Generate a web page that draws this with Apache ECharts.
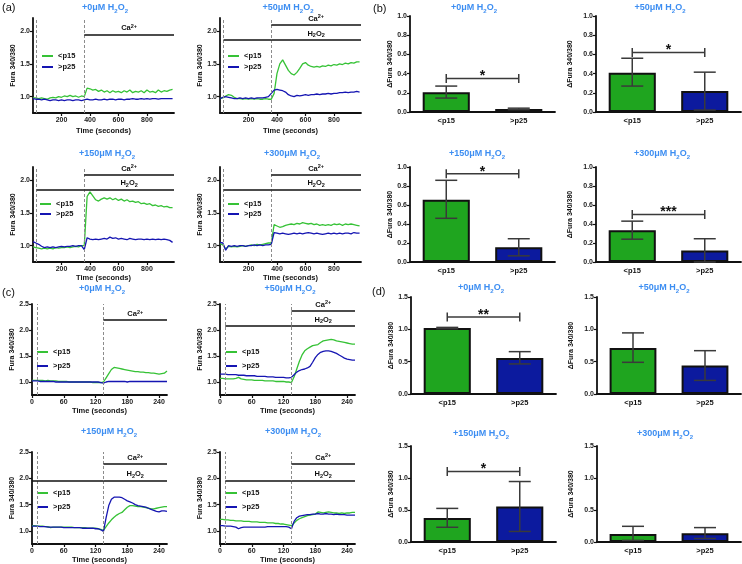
<!DOCTYPE html>
<html><head><meta charset="utf-8">
<script src="https://cdn.jsdelivr.net/npm/echarts@6/dist/echarts.min.js"></script>
<style>html,body{margin:0;padding:0;background:#fff}#c{width:742px;height:564px}</style>
</head><body><div id="c"></div><script>
// ---------- DATA ----------
const aTime = [0,20,40,60,80,100,120,140,160,180,200,220,240,260,280,300,320,340,360,380,400,420,440,460,480,500,520,540,560,580,600,620,640,660,680,700,720,740,760,780,800,820,840,860,880,900,920,940,960,980];
const cTime = [0,5,10,15,20,25,30,35,40,45,50,55,60,65,70,75,80,85,90,95,100,105,110,115,120,125,130,135,140,145,150,155,160,165,170,175,180,185,190,195,200,205,210,215,220,225,230,235,240,245,250,255];
const aXTicks = [200,400,600,800];
const cXTicks = [0,60,120,180,240];
const aYTicks = [1.0,1.5,2.0];
const cYTicks = [1.0,1.5,2.0,2.5];

const a0Green = [0.98,0.98,0.97,0.98,0.97,0.96,0.98,0.99,0.98,1.00, 0.99,1.01,1.00,1.02,1.00,1.01,0.99,1.01,1.00,1.13, 1.12,1.10,1.11,1.08,1.10,1.07,1.09,1.06,1.09,1.07, 1.08,1.06,1.09,1.07,1.10,1.06,1.08,1.07,1.09,1.06, 1.10,1.07,1.08,1.06,1.10,1.07,1.09,1.08,1.10,1.11];
const a0Blue = [0.97,0.96,0.96,0.95,0.96,0.95,0.94,0.95,0.95,0.94, 0.95,0.94,0.95,0.95,0.94,0.95,0.95,0.94,0.95,0.96, 0.95,0.95,0.96,0.95,0.95,0.96,0.95,0.96,0.96,0.95, 0.96,0.96,0.95,0.96,0.96,0.97,0.96,0.96,0.97,0.96, 0.97,0.96,0.97,0.97,0.96,0.97,0.97,0.97,0.97,0.97];
const a50Green = [0.97,0.98,1.01,1.03,1.02,0.99,0.97,0.97,0.96,0.97, 0.96,0.97,0.96,0.97,0.96,0.96,0.97,0.96,0.96,1.05, 1.35,1.50,1.56,1.48,1.40,1.35,1.33,1.37,1.43,1.50, 1.52,1.48,1.46,1.45,1.46,1.45,1.47,1.46,1.48,1.47, 1.49,1.48,1.50,1.49,1.51,1.50,1.52,1.51,1.53,1.53];
const a50Blue = [0.97,0.99,1.00,0.99,0.98,0.97,0.97,0.98,0.97,0.98, 0.97,0.98,0.97,0.98,0.98,0.98,0.99,1.00,1.05,1.10, 1.11,1.10,1.09,1.07,1.03,1.01,1.00,1.02,1.01,1.02, 1.03,1.02,1.03,1.03,1.04,1.03,1.04,1.04,1.05,1.04, 1.05,1.05,1.06,1.06,1.07,1.06,1.07,1.07,1.08,1.07];
const a150Green = [0.98,0.97,0.96,0.95,0.96,0.95,0.96,0.95,0.97,0.96, 0.97,0.97,0.98,0.97,0.98,0.99,0.98,1.00,1.00,1.75, 1.82,1.76,1.70,1.68,1.71,1.73,1.71,1.73,1.70,1.72, 1.69,1.71,1.68,1.70,1.67,1.68,1.66,1.67,1.64,1.65, 1.63,1.64,1.61,1.62,1.60,1.61,1.59,1.60,1.58,1.58];
const a150Blue = [1.06,1.04,1.02,0.99,0.97,0.98,0.97,0.98,0.97,0.98, 0.99,0.98,0.99,0.99,1.00,0.99,1.00,1.00,0.94,1.12, 1.10,1.09,1.10,1.09,1.10,1.11,1.10,1.13,1.11,1.12, 1.10,1.11,1.10,1.09,1.11,1.10,1.09,1.10,1.10,1.09, 1.10,1.09,1.10,1.09,1.10,1.09,1.10,1.09,1.08,1.05];
const a300Green = [1.03,1.01,0.95,0.99,0.98,0.99,0.98,0.99,1.00,0.99, 1.00,1.01,1.00,1.02,1.01,1.02,1.03,1.04,1.04,1.32, 1.30,1.28,1.29,1.31,1.32,1.33,1.32,1.34,1.33,1.35, 1.34,1.33,1.34,1.32,1.33,1.31,1.32,1.31,1.32,1.31, 1.33,1.32,1.33,1.31,1.33,1.32,1.33,1.32,1.31,1.30];
const a300Blue = [1.05,1.04,0.93,1.00,0.99,1.00,0.99,1.00,1.00,0.99, 1.00,1.00,1.01,1.00,1.01,1.00,1.01,1.01,1.02,1.20, 1.19,1.18,1.19,1.18,1.17,1.18,1.19,1.18,1.19,1.18, 1.19,1.20,1.19,1.18,1.19,1.18,1.17,1.18,1.19,1.18, 1.19,1.18,1.19,1.18,1.19,1.19,1.18,1.20,1.19,1.19];

const c0Green = [1.03,1.03,1.03,1.03,1.03,1.02,1.03,1.02,1.02,1.02, 1.01,1.01,1.01,1.01,1.00,1.00,1.00,1.00,1.00,1.00, 1.00,1.00,1.00,0.99,0.99,0.99,0.99,1.00,1.08,1.16, 1.24,1.28,1.27,1.26,1.25,1.24,1.23,1.22,1.21,1.20, 1.20,1.19,1.19,1.18,1.18,1.17,1.17,1.16,1.15,1.16, 1.17,1.21];
const c0Blue = [1.02,1.02,1.02,1.01,1.01,1.01,1.01,1.01,1.01,1.00, 1.00,1.00,1.00,1.00,1.00,1.00,1.00,1.00,1.00,1.00, 1.00,1.00,1.00,1.00,1.00,1.00,0.99,0.98,1.00,1.01, 1.01,1.01,1.01,1.01,1.01,1.01,1.00,1.01,1.01,1.01, 1.01,1.01,1.01,1.01,1.01,1.01,1.01,1.01,1.01,1.01, 1.01,1.01];
const c50Green = [1.07,1.07,1.06,1.06,1.06,1.06,1.07,1.09,1.06,1.05, 1.04,1.04,1.04,1.03,1.03,1.03,1.03,1.02,1.02,1.02, 1.02,1.01,1.01,1.01,1.01,1.00,1.00,0.99,1.10,1.25, 1.40,1.52,1.60,1.64,1.67,1.70,1.71,1.72,1.76,1.79, 1.80,1.81,1.82,1.81,1.79,1.78,1.77,1.76,1.75,1.74, 1.73,1.73];
const c50Blue = [1.15,1.15,1.15,1.14,1.14,1.14,1.14,1.13,1.13,1.13, 1.12,1.12,1.12,1.12,1.11,1.11,1.11,1.11,1.10,1.10, 1.10,1.09,1.09,1.09,1.09,1.08,1.08,1.09,1.14,1.19, 1.22,1.24,1.25,1.27,1.30,1.38,1.47,1.53,1.57,1.59, 1.60,1.60,1.59,1.57,1.55,1.52,1.49,1.46,1.44,1.43, 1.42,1.42];
const c150Green = [1.10,1.10,1.09,1.09,1.09,1.08,1.08,1.06,1.07,1.07, 1.07,1.07,1.07,1.07,1.07,1.07,1.06,1.06,1.06,1.06, 1.06,1.05,1.05,1.05,1.05,1.04,1.03,1.01,1.08,1.15, 1.21,1.26,1.30,1.33,1.35,1.40,1.45,1.48,1.48,1.47, 1.46,1.46,1.45,1.44,1.43,1.42,1.42,1.43,1.44,1.45, 1.46,1.46];
const c150Blue = [1.09,1.09,1.09,1.08,1.08,1.08,1.07,1.07,1.07,1.07, 1.07,1.07,1.06,1.06,1.06,1.06,1.06,1.06,1.06,1.05, 1.05,1.05,1.05,1.05,1.04,1.04,1.02,0.99,1.25,1.48, 1.60,1.64,1.64,1.64,1.63,1.60,1.57,1.55,1.53,1.50, 1.48,1.47,1.46,1.45,1.43,1.41,1.39,1.37,1.36,1.38, 1.38,1.37];
const c300Green = [1.22,1.22,1.21,1.21,1.20,1.20,1.19,1.19,1.19,1.18, 1.18,1.18,1.17,1.17,1.17,1.16,1.16,1.16,1.15,1.15, 1.15,1.14,1.14,1.13,1.13,1.12,1.11,1.10,1.15,1.20, 1.23,1.25,1.27,1.29,1.30,1.31,1.32,1.36,1.35,1.34, 1.35,1.36,1.35,1.34,1.34,1.33,1.34,1.33,1.34,1.34, 1.35,1.35];
const c300Blue = [1.10,1.10,1.09,1.09,1.09,1.08,1.07,1.04,1.06,1.07, 1.07,1.07,1.07,1.07,1.07,1.07,1.07,1.07,1.08,1.08, 1.08,1.08,1.08,1.08,1.08,1.08,1.07,1.04,1.18,1.25, 1.28,1.29,1.30,1.31,1.31,1.32,1.32,1.33,1.32,1.32, 1.33,1.32,1.32,1.31,1.32,1.31,1.31,1.31,1.30,1.30, 1.30,1.30];

const barCategories = ['<p15', '>p25'];
const b0Mean = [0.205, 0.03],  b0Low = [0.145, 0.025], b0High = [0.27, 0.04];
const b50Mean = [0.41, 0.22],  b50Low = [0.27, 0.02],  b50High = [0.56, 0.415];
const b150Mean = [0.655, 0.155], b150Low = [0.46, 0.065], b150High = [0.86, 0.245];
const b300Mean = [0.335, 0.12], b300Low = [0.24, 0.0], b300High = [0.43, 0.245];
const d0Mean = [1.02, 0.555],  d0Low = [1.01, 0.465],  d0High = [1.03, 0.655];
const d50Mean = [0.71, 0.44],  d50Low = [0.49, 0.21],  d50High = [0.945, 0.67];
const d150Mean = [0.375, 0.555], d150Low = [0.23, 0.165], d150High = [0.525, 0.945];
const d300Mean = [0.125, 0.135], d300Low = [0.025, 0.055], d300High = [0.245, 0.225];
const bSigY = [0.35, 0.62, 0.93, 0.50];
const bSigStar = ['*', '*', '*', '***'];
const dSigY = [1.19, null, 1.10, null];
const dSigStar = ['**', '', '*', ''];

const aXMax = 990, cXMax = 255;
const aDash1 = 25, aCa = 360, cDash1 = 10, cCa = 135;

// lengths check
[[aTime,a0Green,a0Blue,a50Green,a50Blue,a150Green,a150Blue,a300Green,a300Blue],[cTime,c0Green,c0Blue,c50Green,c50Blue,c150Green,c150Blue,c300Green,c300Blue]].forEach(g=>{g.forEach((arr,k)=>{if(arr.length!==g[0].length) throw new Error('length mismatch '+k+' '+arr.length);});});

// ---------- STYLE ----------
const FONT = 'Liberation Sans, Arial, sans-serif';
const GREEN_LINE = '#36c236', BLUE_LINE = '#1515b2';
const GREEN_BAR = '#1fa51f', BLUE_BAR = '#0c1a9e';
const TITLE_C = '#3d8ef2';
const INK = '#111';

const linePanels = [
  {conc:'0',   tx:105, ty:8,   g:[33,18,141,95],   t:'a', green:a0Green,   blue:a0Blue,   caY:1.95, h2Y:null, h2From:null, lg:[42,51,1],  xGap:14},
  {conc:'50',  tx:288, ty:8,   g:[220,18,141,95],  t:'a', green:a50Green,  blue:a50Blue,  caY:2.10, h2Y:1.87, h2From:aDash1, lg:[228,51,1], xGap:14},
  {conc:'150', tx:107, ty:154, g:[33,167,141,95],  t:'a', green:a150Green, blue:a150Blue, caY:2.08, h2Y:1.86, h2From:aDash1, lg:[40,199,0], xGap:10},
  {conc:'300', tx:292, ty:154, g:[220,167,141,95], t:'a', green:a300Green, blue:a300Blue, caY:2.08, h2Y:1.86, h2From:aDash1, lg:[228,199,0], xGap:10},
  {conc:'0',   tx:102, ty:289, g:[32,304,135,91],  t:'c', green:c0Green,   blue:c0Blue,   caY:2.19, h2Y:null, h2From:null, lg:[37,347,4], xGap:12},
  {conc:'50',  tx:290, ty:289, g:[220,304,135,91], t:'c', green:c50Green,  blue:c50Blue,  caY:2.37, h2Y:2.08, h2From:cDash1, lg:[226,347,4], xGap:12},
  {conc:'150', tx:109, ty:432, g:[32,452,135,92],  t:'c', green:c150Green, blue:c150Blue, caY:2.27, h2Y:1.96, h2From:0, lg:[37,488,4], xGap:10},
  {conc:'300', tx:293, ty:432, g:[220,452,135,92], t:'c', green:c300Green, blue:c300Blue, caY:2.28, h2Y:1.96, h2From:cDash1, lg:[226,488,4], xGap:10}
];
const barPanels = [
  {conc:'0',   tx:474, ty:8,   g:[410,16,145,96],  max:1.0, step:0.2, mean:b0Mean,   low:b0Low,   high:b0High,   sig:bSigY[0], star:bSigStar[0], yGap:16},
  {conc:'50',  tx:660, ty:8,   g:[596,16,145,96],  max:1.0, step:0.2, mean:b50Mean,  low:b50Low,  high:b50High,  sig:bSigY[1], star:bSigStar[1], yGap:22},
  {conc:'150', tx:477, ty:154, g:[410,167,145,95], max:1.0, step:0.2, mean:b150Mean, low:b150Low, high:b150High, sig:bSigY[2], star:bSigStar[2], yGap:16},
  {conc:'300', tx:662, ty:154, g:[596,167,145,95], max:1.0, step:0.2, mean:b300Mean, low:b300Low, high:b300High, sig:bSigY[3], star:bSigStar[3], yGap:22},
  {conc:'0',   tx:481, ty:288, g:[411,297,145,97], max:1.5, step:0.5, mean:d0Mean,   low:d0Low,   high:d0High,   sig:dSigY[0], star:dSigStar[0], yGap:16},
  {conc:'50',  tx:664, ty:288, g:[597,297,144,97], max:1.5, step:0.5, mean:d50Mean,  low:d50Low,  high:d50High,  sig:dSigY[1], star:dSigStar[1], yGap:22},
  {conc:'150', tx:481, ty:434, g:[411,446,145,96], max:1.5, step:0.5, mean:d150Mean, low:d150Low, high:d150High, sig:dSigY[2], star:dSigStar[2], yGap:16},
  {conc:'300', tx:665, ty:434, g:[597,446,144,96], max:1.5, step:0.5, mean:d300Mean, low:d300Low, high:d300High, sig:dSigY[3], star:dSigStar[3], yGap:22}
];

const grid = [], xAxis = [], yAxis = [], series = [], legend = [], graphic = [];

const axisLineStyle = {show:true, onZero:false, lineStyle:{color:INK, width:1.8}};
const tickLbl = {fontSize:7, fontWeight:'bold', color:'#222', fontFamily:FONT};
const titleRich = {
  m:{fontSize:9, fontWeight:'bold', fill:TITLE_C, fontFamily:FONT, lineHeight:12},
  s:{fontSize:6, fontWeight:'bold', fill:TITLE_C, fontFamily:FONT, lineHeight:6, verticalAlign:'bottom'}
};
function addTitle(p){
  graphic.push({type:'text', x:p.tx, y:p.ty, silent:true, style:{
    text:'{m|+' + p.conc + 'μM H}{s|2}{m|O}{s|2}', rich:titleRich, align:'center', verticalAlign:'middle'}});
}
const annRich = {
  m:{fontSize:7.5, fontWeight:'bold', color:INK, fontFamily:FONT, lineHeight:10},
  p:{fontSize:5.5, fontWeight:'bold', color:INK, fontFamily:FONT, lineHeight:5, verticalAlign:'top'},
  s:{fontSize:5.5, fontWeight:'bold', color:INK, fontFamily:FONT, lineHeight:5, verticalAlign:'bottom'}
};

linePanels.forEach(p => {
  const gi = grid.length;
  const isA = p.t === 'a';
  const xMax = isA ? aXMax : cXMax;
  const time = isA ? aTime : cTime;
  const dash1 = isA ? aDash1 : cDash1;
  const ca = isA ? aCa : cCa;
  const yT = isA ? aYTicks : cYTicks;
  grid.push({left:p.g[0], top:p.g[1], width:p.g[2], height:p.g[3], containLabel:false, outerBoundsMode:'none'});
  xAxis.push({gridIndex:gi, type:'value', min:0, max:xMax,
    axisLine:axisLineStyle,
    axisTick:{show:true, length:3, lineStyle:{color:INK, width:1.2}, customValues:isA?aXTicks:cXTicks},
    axisLabel:{...tickLbl, margin:4, customValues:isA?aXTicks:cXTicks, formatter:v=>String(v)},
    splitLine:{show:false},
    name:'Time (seconds)', nameLocation:'middle', nameGap:p.xGap,
    nameTextStyle:{fontSize:7.5, fontWeight:'bold', color:INK, fontFamily:FONT}});
  yAxis.push({gridIndex:gi, type:'value', min:0.75, max:isA?2.2:2.5,
    axisLine:axisLineStyle,
    axisTick:{show:true, length:3, lineStyle:{color:INK, width:1.2}, customValues:yT},
    axisLabel:{...tickLbl, margin:3, customValues:yT, formatter:v=>v.toFixed(1)},
    splitLine:{show:false},
    name:'Fura 340/380', nameLocation:'middle', nameGap:16,
    nameTextStyle:{fontSize:7, fontWeight:'bold', color:INK, fontFamily:FONT}});

  const dashStyle = {type:[3,2], color:'#8c8c8c', width:1};
  const solid = {type:'solid', color:INK, width:1.5};
  const noLabel = {show:false};
  const ml = [
    {xAxis:dash1, lineStyle:dashStyle, label:noLabel},
    {xAxis:ca, lineStyle:dashStyle, label:noLabel},
    [{coord:[ca, p.caY], lineStyle:solid, label:{show:true, position:'middle', distance:1, formatter:'{m|Ca}{p|2+}', rich:annRich}}, {coord:[xMax, p.caY]}]
  ];
  if (p.h2Y !== null) {
    ml.push([{coord:[p.h2From, p.h2Y], lineStyle:solid, label:noLabel}, {coord:[ca, p.h2Y]}]);
    ml.push([{coord:[ca, p.h2Y], lineStyle:solid, label:{show:true, position:'middle', distance:1, formatter:'{m|H}{s|2}{m|O}{s|2}', rich:annRich}}, {coord:[xMax, p.h2Y]}]);
  }
  series.push({type:'line', name:'<p15', xAxisIndex:gi, yAxisIndex:gi, symbol:'none', animation:false,
    data: time.map((t,k)=>[t, p.green[k]]), lineStyle:{color:GREEN_LINE, width:1.3}, itemStyle:{color:GREEN_LINE}, z:3,
    markLine:{silent:true, symbol:['none','none'], animation:false, data:ml}});
  series.push({type:'line', name:'>p25', xAxisIndex:gi, yAxisIndex:gi, symbol:'none', animation:false,
    data: time.map((t,k)=>[t, p.blue[k]]), lineStyle:{color:BLUE_LINE, width:1.3}, itemStyle:{color:BLUE_LINE}, z:3});
  legend.push({data:['<p15','>p25'], orient:'vertical', left:p.lg[0], top:p.lg[1], itemGap:p.lg[2],
    icon:'rect', itemWidth:11, itemHeight:2, padding:0, selectedMode:false,
    textStyle:{fontSize:7.5, fontWeight:'bold', color:INK, fontFamily:FONT, lineHeight:10}});
  addTitle(p);
});

barPanels.forEach(p => {
  const gi = grid.length;
  grid.push({left:p.g[0], top:p.g[1], width:p.g[2], height:p.g[3], containLabel:false, outerBoundsMode:'none'});
  xAxis.push({gridIndex:gi, type:'category', data:barCategories,
    axisLine:axisLineStyle, axisTick:{show:false},
    axisLabel:{fontSize:7.5, fontWeight:'bold', color:INK, fontFamily:FONT, margin:5}});
  yAxis.push({gridIndex:gi, type:'value', min:0, max:p.max, interval:p.step,
    axisLine:axisLineStyle,
    axisTick:{show:true, length:3, lineStyle:{color:INK, width:1.2}},
    axisLabel:{...tickLbl, margin:3, formatter:v=>v.toFixed(1)},
    splitLine:{show:false},
    name:'ΔFura 340/380', nameLocation:'middle', nameGap:p.yGap,
    nameTextStyle:{fontSize:7, fontWeight:'bold', color:INK, fontFamily:FONT}});
  series.push({type:'bar', name:'bars', xAxisIndex:gi, yAxisIndex:gi, barWidth:'65%', animation:false,
    data: p.mean.map((v,k)=>({value:v, itemStyle:{color:k===0?GREEN_BAR:BLUE_BAR}})),
    itemStyle:{borderColor:INK, borderWidth:2}, z:2});
  series.push({type:'custom', name:'err', xAxisIndex:gi, yAxisIndex:gi, animation:false, z:4,
    data: p.mean.map((v,k)=>[k, p.low[k], p.high[k]]),
    encode:{x:0, y:[1,2]},
    renderItem:(params, api)=>{
      const c = api.value(0);
      const hi = api.coord([c, api.value(2)]);
      const lo = api.coord([c, api.value(1)]);
      const hw = 11;
      const st = {stroke:'#3a3a3a', lineWidth:1.5};
      return {type:'group', children:[
        {type:'line', shape:{x1:hi[0], y1:hi[1], x2:lo[0], y2:lo[1]}, style:st},
        {type:'line', shape:{x1:hi[0]-hw, y1:hi[1], x2:hi[0]+hw, y2:hi[1]}, style:st},
        {type:'line', shape:{x1:lo[0]-hw, y1:lo[1], x2:lo[0]+hw, y2:lo[1]}, style:st}
      ]};
    }});
  if (p.sig !== null) {
    const star = p.star;
    series.push({type:'custom', name:'sig', xAxisIndex:gi, yAxisIndex:gi, animation:false, z:4,
      data:[[0, p.sig]], encode:{x:0, y:1},
      renderItem:(params, api)=>{
        const a = api.coord([0, api.value(1)]);
        const b = api.coord([1, api.value(1)]);
        const st = {stroke:'#3a3a3a', lineWidth:1.5};
        return {type:'group', children:[
          {type:'line', shape:{x1:a[0], y1:a[1]-4.5, x2:a[0], y2:a[1]+4.5}, style:st},
          {type:'line', shape:{x1:b[0], y1:b[1]-4.5, x2:b[0], y2:b[1]+4.5}, style:st},
          {type:'line', shape:{x1:a[0], y1:a[1], x2:b[0], y2:b[1]}, style:st},
          {type:'text', x:(a[0]+b[0])/2, y:a[1]-2, style:{text:star, fill:INK, fontSize:14, fontWeight:'bold', fontFamily:FONT, align:'center', verticalAlign:'middle'}}
        ]};
      }});
  }
  addTitle(p);
});

[['(a)',2,8],['(b)',373,9],['(c)',2,293],['(d)',372,292]].forEach(l=>{
  graphic.push({type:'text', x:l[1], y:l[2], silent:true, style:{text:l[0], fontSize:11, fill:INK, fontFamily:FONT, align:'left', verticalAlign:'middle'}});
});

const chart = echarts.init(document.getElementById('c'), null, {renderer:'canvas'});
chart.setOption({
  animation:false,
  backgroundColor:'#fff',
  textStyle:{fontFamily:FONT},
  grid, xAxis, yAxis, series, legend, graphic
});
</script></body></html>
